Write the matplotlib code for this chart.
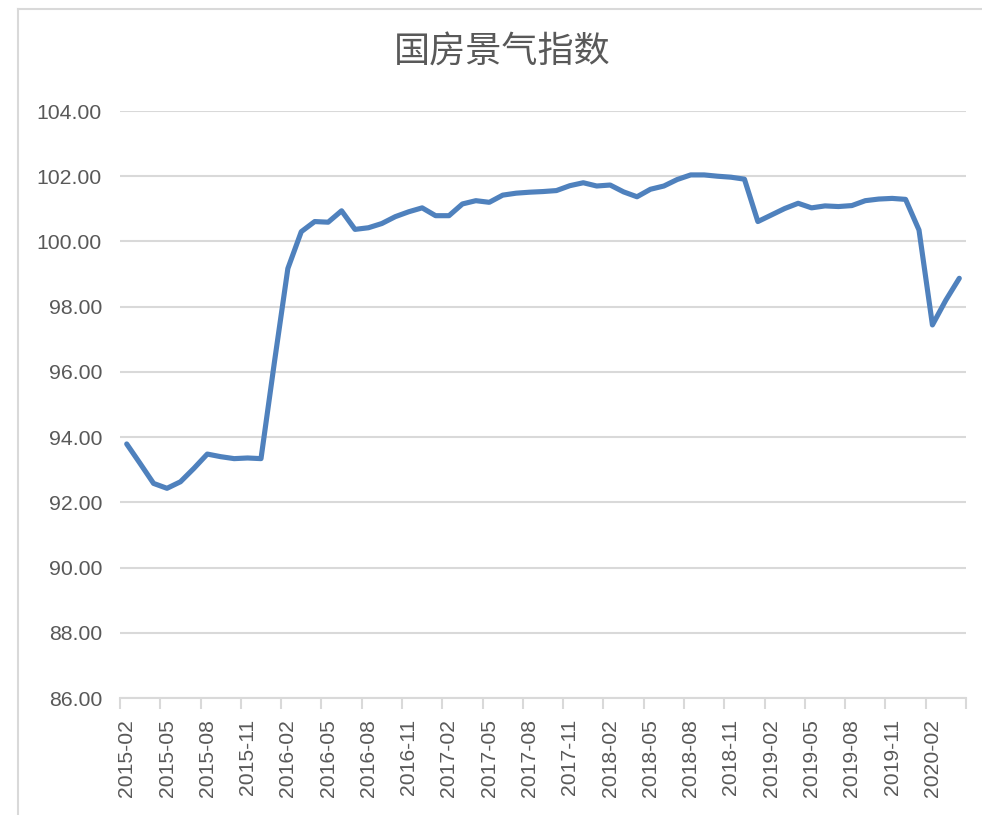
import matplotlib
matplotlib.use("Agg")
import matplotlib.pyplot as plt
from matplotlib.lines import Line2D
import numpy as np
import pandas as pd

# ---- data ----
months = [p.strftime("%Y-%m") for p in pd.period_range("2015-02", "2020-04", freq="M")]
values = [
    93.79, 93.19, 92.58, 92.43, 92.63, 93.04, 93.48, 93.40, 93.34, 93.36, 93.34,   # 2015-02..2015-12
    96.30, 99.17, 100.30, 100.61, 100.59, 100.94, 100.37, 100.42, 100.55, 100.76, 100.91, 101.03,  # 2016
    100.79, 100.79, 101.15, 101.25, 101.20, 101.42, 101.48, 101.51, 101.53, 101.56, 101.71, 101.80,  # 2017
    101.70, 101.73, 101.52, 101.37, 101.60, 101.70, 101.90, 102.04, 102.04, 102.00, 101.97, 101.91,  # 2018
    100.61, 100.81, 101.01, 101.17, 101.03, 101.09, 101.07, 101.10, 101.25, 101.30, 101.32, 101.29,  # 2019
    100.35, 97.44, 98.20, 98.87,  # 2020
]
title = "国房景气指数"
y_ticks = [86, 88, 90, 92, 94, 96, 98, 100, 102, 104]

# ---- style ----
W, H = 982, 815
DPI = 100
text_col = "#595959"
grid_col = "#D9D9D9"
line_col = "#4F81BD"
tick_font = ["Liberation Sans", "DejaVu Sans"]

fig = plt.figure(figsize=(W / DPI, H / DPI), dpi=DPI)
fig.patch.set_facecolor("white")

ax = fig.add_axes([120 / W, 1 - 698 / H, (966 - 120) / W, (698 - 111) / H])
x = np.arange(len(values))
ax.plot(x, values, color=line_col, linewidth=3.7, solid_joinstyle="round", solid_capstyle="round", zorder=3)

ax.set_xlim(-0.5, len(values) - 0.5)
ax.set_ylim(86, 104)
ax.set_yticks(y_ticks)
ax.set_yticklabels([f"{v:.2f}" for v in y_ticks])
ax.yaxis.grid(True, color=grid_col, linewidth=1.5)
ax.set_axisbelow(True)
ax.tick_params(axis="y", length=0, pad=13, labelsize=15.3, labelcolor=text_col)

# major ticks at boundaries (marks only), minor ticks at labelled months
ax.set_xticks(np.arange(-0.5, len(values), 3))
ax.set_xticklabels([])
ax.set_xticks(np.arange(0, len(values), 3), minor=True)
ax.set_xticklabels(months[::3], minor=True, rotation=90)
ax.tick_params(axis="x", which="major", length=8, width=1.5, color=grid_col, direction="out")
ax.tick_params(axis="x", which="minor", length=0, pad=15, labelsize=15.2, labelcolor=text_col)

for lab in ax.get_xticklabels(minor=True) + ax.get_yticklabels():
    lab.set_fontfamily(tick_font)

for s in ["top", "right", "left"]:
    ax.spines[s].set_visible(False)
ax.spines["bottom"].set_color(grid_col)
ax.spines["bottom"].set_linewidth(1.5)

fig.text(502 / W, 1 - 52 / H, title, ha="center", va="center", fontsize=26,
         color=text_col, family=["Noto Sans CJK SC", "DejaVu Sans"], fontweight="light")

# chart area border (partially visible)
fig.add_artist(Line2D([17.5 / W, 17.5 / W], [0, 1 - 9 / H], color=grid_col, linewidth=1.5))
fig.add_artist(Line2D([17.5 / W, 1], [1 - 9 / H, 1 - 9 / H], color=grid_col, linewidth=1.5))

fig.savefig("out.png", dpi=DPI, facecolor="white")
